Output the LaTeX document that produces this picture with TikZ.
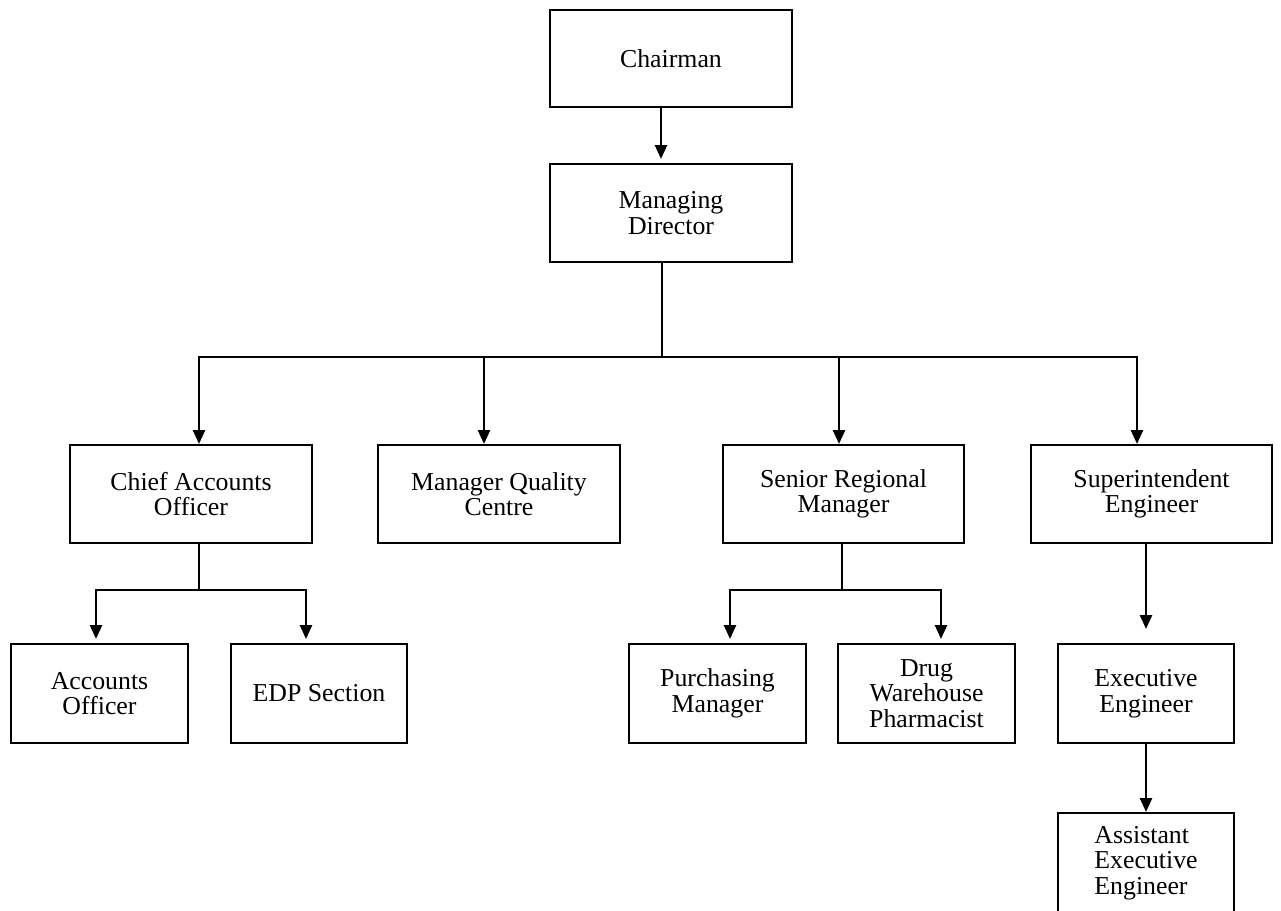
\documentclass[tikz,border=0pt]{standalone}
\usepackage{fontspec}
\setmainfont{Liberation Serif}
\usetikzlibrary{arrows.meta}
\begin{document}
\begin{tikzpicture}[x=1pt,y=-1pt,
  box/.style={draw, line width=2.6pt, inner sep=0pt, outer sep=0pt, align=center,
    font=\fontsize{25.8}{25.6}\selectfont},
  conn/.style={line width=2.6pt, line join=miter},
  arr/.style={conn, -{Triangle[length=14pt,width=12pt]}}]
\useasboundingbox (0,0) rectangle (1281,910);
% boxes: center, width, height
\node[box, minimum width=242pt, minimum height=97pt] (chair) at (671,58.5) {Chairman};
\node[box, minimum width=242pt, minimum height=98pt] (md) at (671,213) {Managing\\Director};
\node[box, minimum width=242pt, minimum height=98pt] (cao) at (191,494) {Chief Accounts\\Officer};
\node[box, minimum width=242pt, minimum height=98pt] (mqc) at (499,494) {Manager Quality\\Centre};
\node[box, minimum width=241pt, minimum height=98pt] (srm) at (843.5,494) {Senior Regional\\Manager};
\node[box, minimum width=241pt, minimum height=98pt] (sup) at (1151.5,494) {Superintendent\\Engineer};
\node[box, minimum width=177pt, minimum height=99pt] (ao) at (99.5,693.5) {Accounts\\Officer};
\node[box, minimum width=176pt, minimum height=99pt] (edp) at (319,693.5) {EDP Section};
\node[box, minimum width=177pt, minimum height=99pt] (pm) at (717.5,693.5) {Purchasing\\Manager};
\node[box, minimum width=177pt, minimum height=99pt] (dwp) at (926.5,693.5) {Drug\\Warehouse\\Pharmacist};
\node[box, minimum width=176pt, minimum height=99pt] (ee) at (1146,693.5) {Executive\\Engineer};
\node[box, minimum width=176pt, minimum height=100pt, align=left] (aee) at (1146,863) {Assistant\\Executive\\Engineer};
% guide coordinates
\coordinate (cA) at (661,0);
\coordinate (cM) at (662,0);
\coordinate (barY) at (0,357);
\coordinate (d1) at (199,0);
\coordinate (d2) at (484,0);
\coordinate (d3) at (839,0);
\coordinate (d4) at (1137,0);
\coordinate (bar2Y) at (0,590);
\coordinate (e1) at (96,0);
\coordinate (e2) at (306,0);
\coordinate (s0) at (842,0);
\coordinate (f1) at (730,0);
\coordinate (f2) at (941,0);
\coordinate (g) at (1146,0);
% connectors
\draw[arr, shorten >=5pt] (chair.south -| cA) -- (md.north -| cA);
\draw[conn] (md.south -| cM) -- (barY -| cM);
\draw[arr, shorten >=1pt] (barY -| cM) -- (barY -| d1) -- (cao.north -| d1);
\draw[arr, shorten >=1pt] (barY -| cM) -- (barY -| d4) -- (sup.north -| d4);
\draw[arr, shorten >=1pt] (barY -| d2) -- (mqc.north -| d2);
\draw[arr, shorten >=1pt] (barY -| d3) -- (srm.north -| d3);
\draw[conn] (cao.south -| d1) -- (bar2Y -| d1);
\draw[arr, shorten >=5pt] (bar2Y -| d1) -- (bar2Y -| e1) -- (ao.north -| e1);
\draw[arr, shorten >=5pt] (bar2Y -| d1) -- (bar2Y -| e2) -- (edp.north -| e2);
\draw[conn] (srm.south -| s0) -- (bar2Y -| s0);
\draw[arr, shorten >=5pt] (bar2Y -| s0) -- (bar2Y -| f1) -- (pm.north -| f1);
\draw[arr, shorten >=5pt] (bar2Y -| s0) -- (bar2Y -| f2) -- (dwp.north -| f2);
\draw[arr, shorten >=15pt] (sup.south -| g) -- (ee.north -| g);
\draw[arr, shorten >=1pt] (ee.south -| g) -- (aee.north -| g);
\end{tikzpicture}
\end{document}
